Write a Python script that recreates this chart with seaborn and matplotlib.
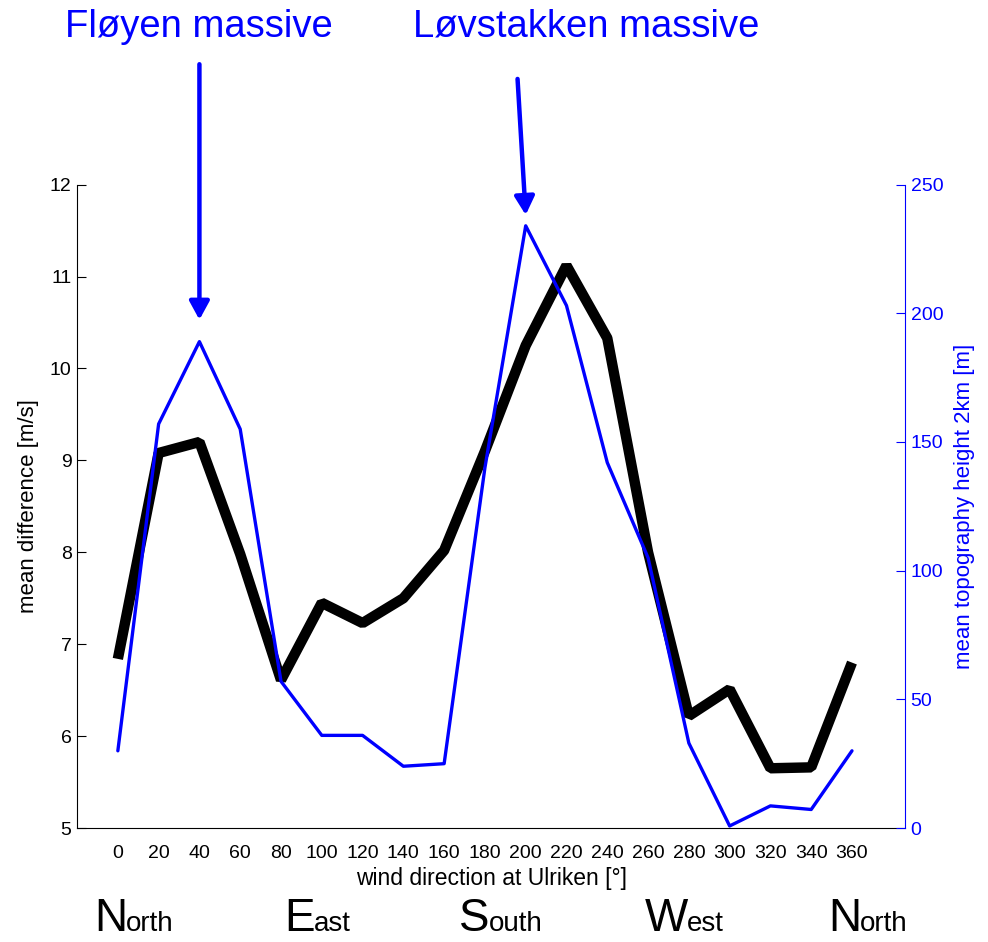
import numpy as np
import pandas as pd
import matplotlib
matplotlib.use("Agg")
import matplotlib.pyplot as plt
import seaborn as sns

# ---- data ----
directions = [0, 20, 40, 60, 80, 100, 120, 140, 160, 180, 200, 220, 240, 260, 280, 300, 320, 340, 360]
mean_difference = [6.84, 9.08, 9.2, 7.98, 6.61, 7.45, 7.23, 7.5, 8.02, 9.1, 10.25, 11.12, 10.33, 8.0, 6.22, 6.51, 5.65, 5.66, 6.8]
topo_height = [30, 157, 189, 155, 57, 36, 36, 24, 25, 140, 234, 203, 142, 105, 33, 0.8, 8.6, 7.2, 30]
xtick_labels = [str(d) for d in directions]
left_ticks = [5, 6, 7, 8, 9, 10, 11, 12]
right_ticks = [0, 50, 100, 150, 200, 250]
compass_labels = ["North", "East", "South", "West", "North"]
compass_deg = [0, 90, 180, 270, 360]
titles = ["Fløyen massive", "Løvstakken massive"]

df = pd.DataFrame({"dir": directions, "diff": mean_difference, "topo": topo_height})

sns.set_theme(style="white")
plt.rcParams["font.family"] = ["Liberation Sans", "DejaVu Sans"]
plt.rcParams["text.color"] = "black"
plt.rcParams["axes.labelcolor"] = "black"

BLUE = "#0000ff"
fig = plt.figure(figsize=(9.88, 9.42), dpi=100)
ax = fig.add_axes([0.078, 0.121, 0.838, 0.683])

sns.lineplot(data=df, x="dir", y="diff", ax=ax, color="black", lw=7.5,
             solid_joinstyle="bevel", solid_capstyle="butt")
ax.set_xlim(-20, 386)
ax.set_ylim(5, 12)
ax.set_xticks(directions)
ax.set_xticklabels(xtick_labels)
ax.set_yticks(left_ticks)
ax.tick_params(axis="both", direction="in", length=6.5, width=0.8, colors="black",
               labelcolor="black", labelsize=14)
ax.tick_params(axis="x", pad=12)
ax.tick_params(axis="y", pad=4)
ax.set_xlabel("wind direction at Ulriken [°]", fontsize=16.5, labelpad=4, color="black")
ax.set_ylabel("mean difference [m/s]", fontsize=16, labelpad=8, color="black")
for s in ["top", "right"]:
    ax.spines[s].set_visible(False)
for s in ["left", "bottom"]:
    ax.spines[s].set_color("black")
    ax.spines[s].set_linewidth(0.8)

ax2 = ax.twinx()
sns.lineplot(data=df, x="dir", y="topo", ax=ax2, color=BLUE, lw=2.4)
ax2.set_ylim(0, 250)
ax2.set_yticks(right_ticks)
ax2.tick_params(axis="y", direction="in", length=6.5, width=0.8, colors=BLUE,
                labelsize=14, pad=4)
ax2.set_ylabel("mean topography height 2km [m]", fontsize=16, color=BLUE, labelpad=8)
for s in ["top", "left", "bottom"]:
    ax2.spines[s].set_visible(False)
ax2.spines["right"].set_color(BLUE)
ax2.spines["right"].set_linewidth(0.8)
ax2.grid(False)
ax.grid(False)

# titles
fig.text(0.066, 0.961, titles[0], fontsize=27.5, color=BLUE, va="baseline", ha="left")
fig.text(0.418, 0.961, titles[1], fontsize=27.5, color=BLUE, va="baseline", ha="left")

# arrows
arrow_kw = dict(arrowstyle="-|>,head_length=0.55,head_width=0.3", lw=3.2, color=BLUE,
                shrinkA=0, shrinkB=0, mutation_scale=20)
ax.annotate("", xy=(40, 10.53), xytext=(40, 13.31), xycoords="data",
            textcoords="data", arrowprops=arrow_kw, annotation_clip=False)
ax.annotate("", xy=(200, 11.67), xytext=(196, 13.15), xycoords="data",
            textcoords="data", arrowprops=arrow_kw, annotation_clip=False)

# compass labels with large first letter
fig.canvas.draw()
renderer = fig.canvas.get_renderer()
W = fig.get_figwidth() * fig.dpi
base_y = 0.0115
for lab, deg in zip(compass_labels, compass_deg):
    t1 = fig.text(0, base_y, lab[0], fontsize=33, va="baseline", ha="left", color="black")
    t2 = fig.text(0, base_y, lab[1:], fontsize=20, va="baseline", ha="left", color="black")
    w1 = t1.get_window_extent(renderer).width
    w2 = t2.get_window_extent(renderer).width
    cx = ax.transData.transform((deg + 8, 5))[0]
    x1 = cx - (w1 + w2) / 2
    t1.set_x(x1 / W)
    t2.set_x((x1 + w1 - 1) / W)

fig.savefig("out.png", dpi=100)
